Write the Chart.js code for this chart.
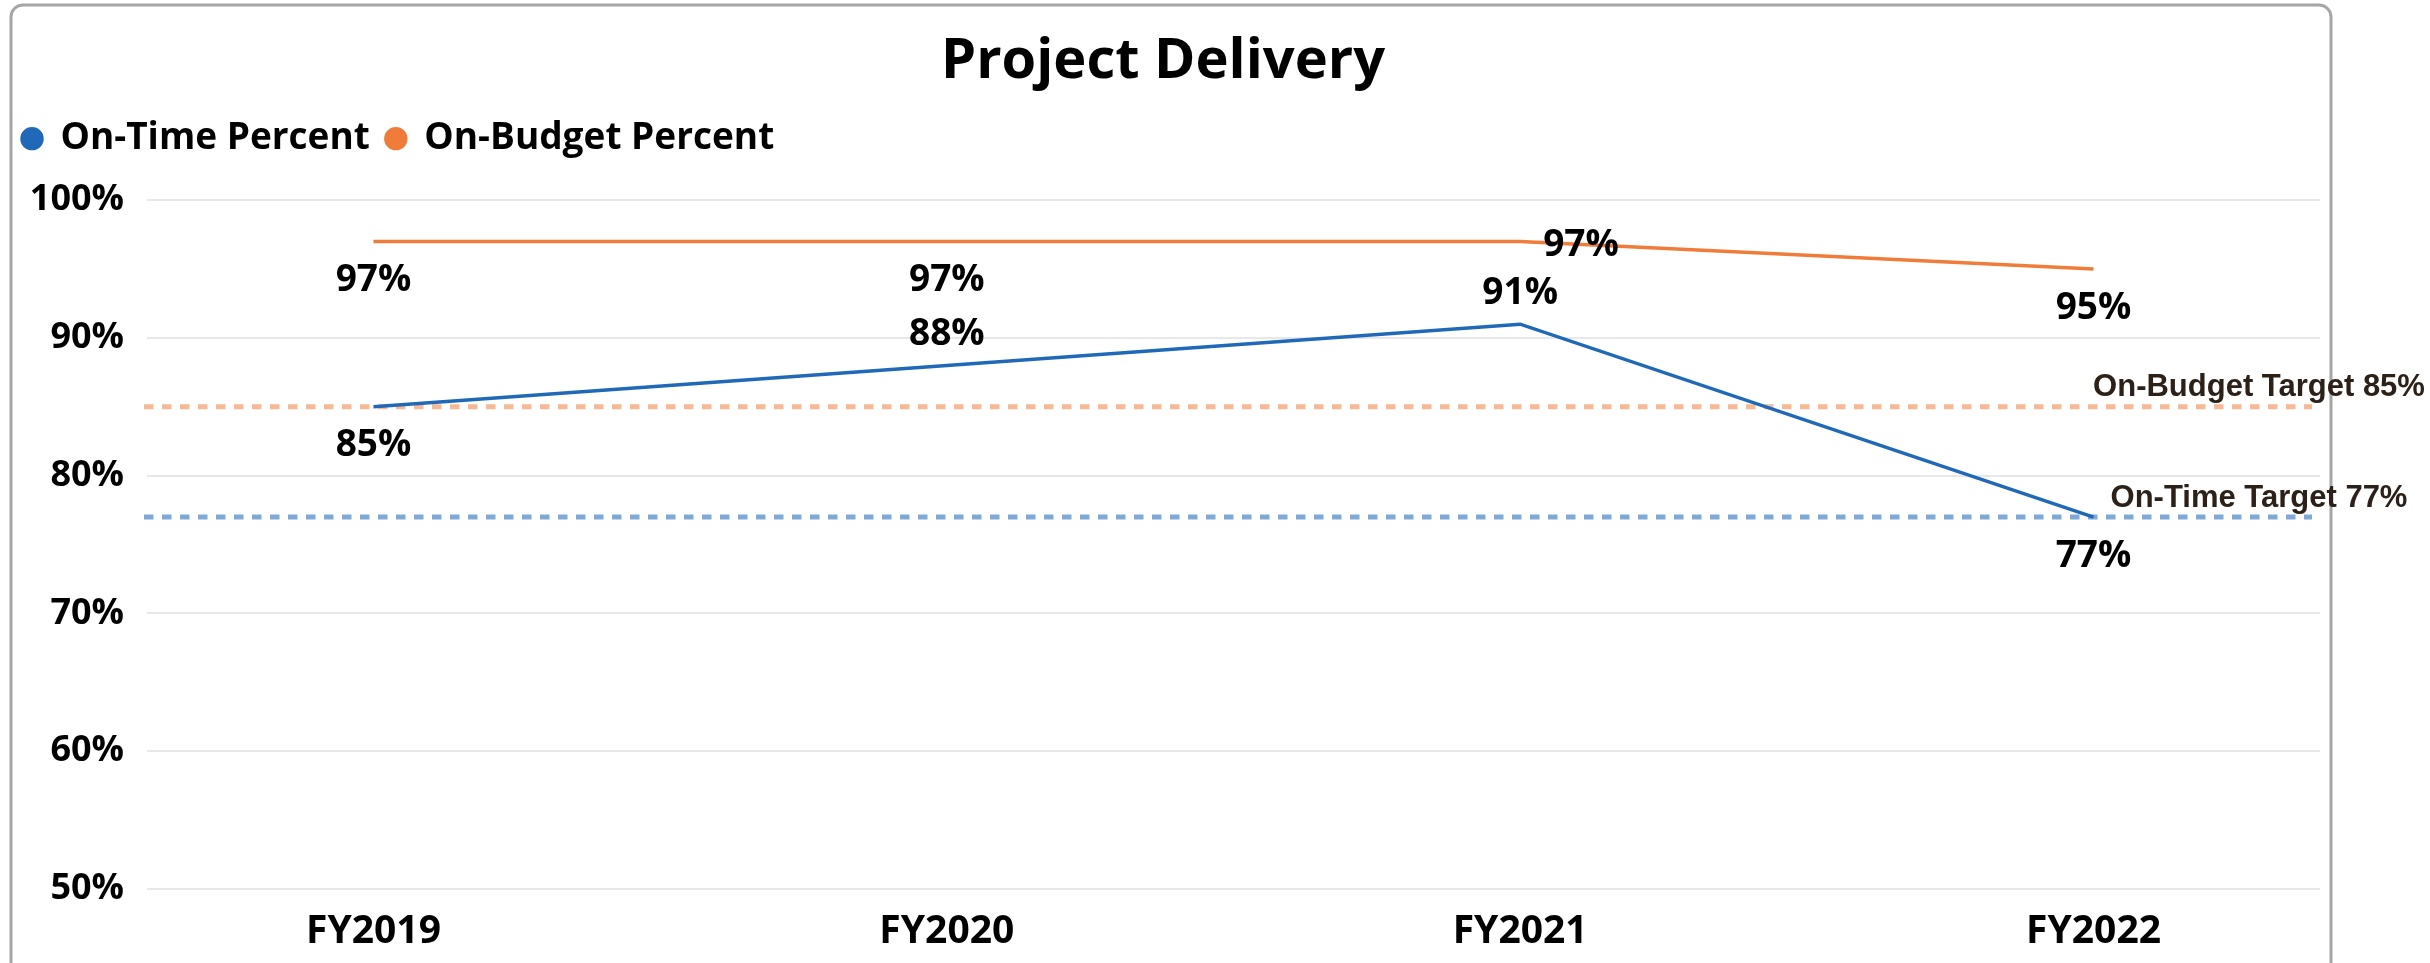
<!DOCTYPE html>
<html><head><meta charset="utf-8">
<script src="https://cdn.jsdelivr.net/npm/chart.js@4.4.1/dist/chart.umd.min.js"></script>
<style>html,body{margin:0;padding:0;background:#fff;overflow:hidden}canvas{display:block}</style>
</head><body>
<canvas id="c" width="2430" height="963"></canvas>
<script>
const categories = ['FY2019', 'FY2020', 'FY2021', 'FY2022'];
const onTimePercent = [85, 88, 91, 77];
const onBudgetPercent = [97, 97, 97, 95];
const targetNames = ['On-Budget Target', 'On-Time Target'];
const targetValues = [85, 77];
const yTickValues = [50, 60, 70, 80, 90, 100];

const FONT = '"Open Sans", "Noto Sans", sans-serif';
const BLUE = '#1f69b8';
const ORANGE = '#f07c3a';
const TARGET_COLORS = ['#f7b894', '#7ea9d8'];
// label placement per point: 'below' | 'above' | 'right'
const onTimeLabelPos = ['below', 'above', 'above', 'below'];
const onBudgetLabelPos = ['below', 'below', 'right', 'below'];

const framePlugin = {
  id: 'frame',
  beforeDraw(chart) {
    const ctx = chart.ctx;
    ctx.save();
    ctx.fillStyle = '#ffffff';
    ctx.fillRect(0, 0, chart.width, chart.height);
    ctx.strokeStyle = '#a6a6a6';
    ctx.lineWidth = 3;
    ctx.beginPath();
    ctx.roundRect(11, 5, 2320, chart.height + 20, 12);
    ctx.stroke();
    ctx.restore();
  }
};

// empty layout box that keeps a gap between the legend and the plot area
const spacerPlugin = {
  id: 'spacer',
  beforeInit(chart) {
    const box = {
      position: 'top', weight: 1, fullSize: true, options: {},
      left: 0, top: 0, right: 0, bottom: 0, width: 0, height: 0,
      isHorizontal() { return true; },
      update(maxWidth) { this.width = maxWidth; this.height = 33; },
      draw() {}
    };
    Chart.layouts.addBox(chart, box);
  }
};

const targetPlugin = {
  id: 'targets',
  beforeDatasetsDraw(chart) {
    const ctx = chart.ctx, y = chart.scales.y, a = chart.chartArea;
    ctx.save();
    targetValues.forEach((v, i) => {
      const py = y.getPixelForValue(v);
      ctx.strokeStyle = TARGET_COLORS[i];
      ctx.lineWidth = 5;
      ctx.setLineDash([9.5, 8.5]);
      ctx.beginPath();
      ctx.moveTo(a.left - 3, py);
      ctx.lineTo(a.right - 8, py);
      ctx.stroke();
    });
    ctx.restore();
  },
  afterDatasetsDraw(chart) {
    const ctx = chart.ctx, y = chart.scales.y, a = chart.chartArea;
    ctx.save();
    ctx.font = 'bold 31px "Liberation Sans", Arial, sans-serif';
    ctx.fillStyle = '#2b2118';
    ctx.textAlign = 'center';
    ctx.textBaseline = 'middle';
    targetValues.forEach((v, i) => {
      const py = y.getPixelForValue(v);
      ctx.fillText(targetNames[i] + ' ' + v + '%', a.right - 61, py - 19);
    });
    ctx.restore();
  }
};

const pointLabelPlugin = {
  id: 'pointLabels',
  afterDatasetsDraw(chart) {
    const ctx = chart.ctx;
    ctx.save();
    ctx.font = 'bold 37px ' + FONT;
    ctx.fillStyle = '#000000';
    ctx.textBaseline = 'middle';
    chart.data.datasets.forEach((ds, di) => {
      const meta = chart.getDatasetMeta(di);
      meta.data.forEach((pt, i) => {
        const txt = ds.data[i].y + '%';
        const pos = ds.labelPos[i];
        if (pos === 'right') {
          ctx.textAlign = 'left';
          ctx.fillText(txt, pt.x + 23, pt.y + 4);
        } else {
          ctx.textAlign = 'center';
          ctx.fillText(txt, pt.x, pt.y + (pos === 'above' ? -31 : 39));
        }
      });
    });
    ctx.restore();
  }
};

new Chart(document.getElementById('c'), {
  type: 'line',
  data: {
    datasets: [
      {
        label: 'On-Time Percent',
        data: onTimePercent.map((v, i) => ({ x: i, y: v })),
        borderColor: BLUE, backgroundColor: BLUE,
        borderWidth: 3.5, pointRadius: 0, tension: 0,
        labelPos: onTimeLabelPos
      },
      {
        label: 'On-Budget Percent',
        data: onBudgetPercent.map((v, i) => ({ x: i, y: v })),
        borderColor: ORANGE, backgroundColor: ORANGE,
        borderWidth: 3.5, pointRadius: 0, tension: 0,
        labelPos: onBudgetLabelPos
      }
    ]
  },
  options: {
    responsive: false,
    animation: false,
    layout: { padding: { left: 6, right: 110, top: 0, bottom: 0 } },
    plugins: {
      title: {
        display: true, text: 'Project Delivery', color: '#000',
        font: { family: FONT, size: 56, weight: 'bold' },
        padding: { top: 28, bottom: 9 }
      },
      legend: {
        display: true, position: 'top', align: 'start',
        labels: {
          usePointStyle: true, pointStyle: 'circle', pointStyleWidth: 20, boxHeight: 14,
          color: '#000', padding: 16,
          font: { family: FONT, size: 37, weight: 'bold' }
        }
      },
      tooltip: { enabled: false }
    },
    scales: {
      x: {
        type: 'linear', min: -0.395, max: 3.395,
        afterBuildTicks(axis) { axis.ticks = categories.map((_, i) => ({ value: i })); },
        afterFit(axis) { axis.height = 74; },
        grid: { display: false },
        border: { display: false },
        ticks: {
          color: '#000', padding: 11, maxRotation: 0, autoSkip: false,
          font: { family: FONT, size: 39, weight: 'bold' },
          callback: (v) => categories[v] ?? ''
        }
      },
      y: {
        min: 50, max: 100,
        afterBuildTicks(axis) { axis.ticks = yTickValues.map(v => ({ value: v })); },
        afterFit(axis) { axis.width = 141; },
        grid: { color: '#e8e8e8', lineWidth: 2, drawTicks: false },
        border: { display: false },
        ticks: {
          color: '#000', padding: 23,
          font: { family: FONT, size: 36, weight: 'bold' },
          callback: (v) => v + '%'
        }
      }
    }
  },
  plugins: [framePlugin, spacerPlugin, targetPlugin, pointLabelPlugin]
});
</script>
</body></html>
